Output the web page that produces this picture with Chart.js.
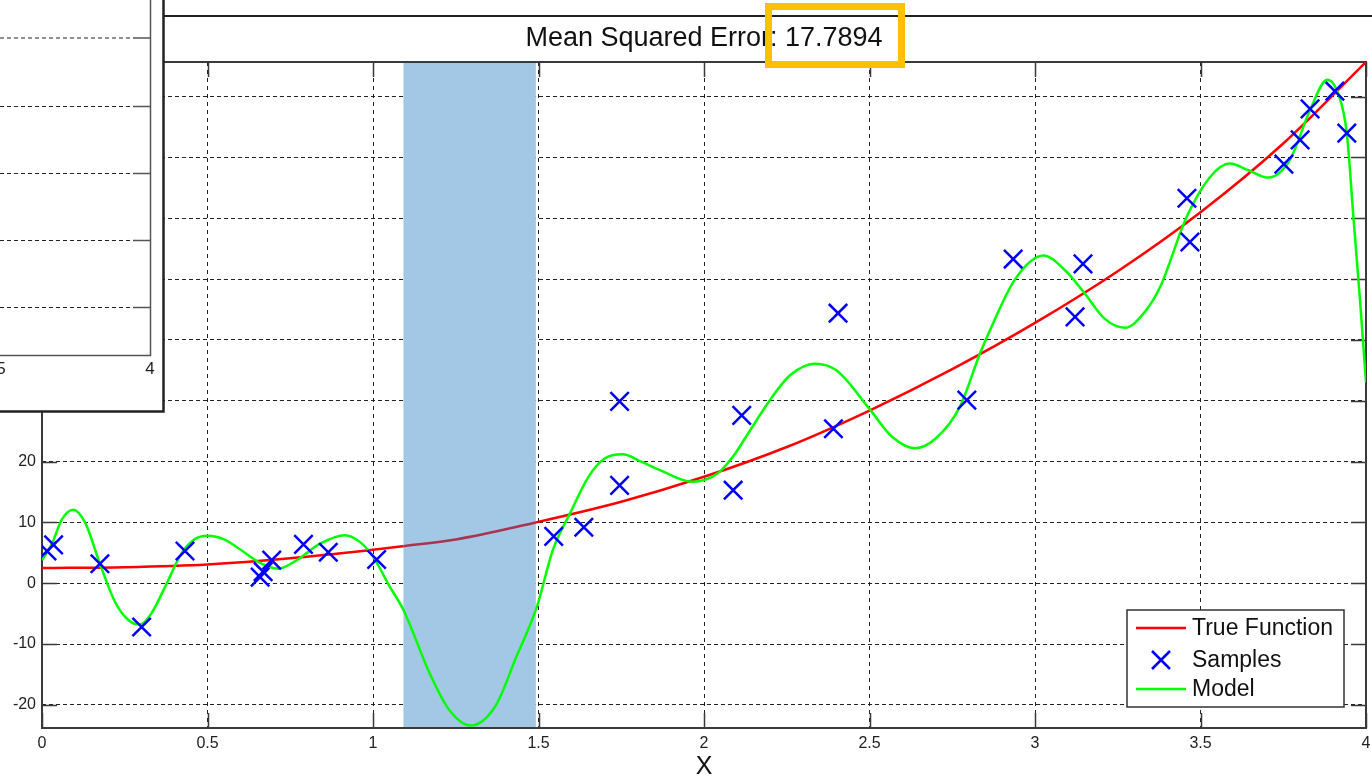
<!DOCTYPE html>
<html>
<head>
<meta charset="utf-8">
<title>Mean Squared Error</title>
<script src="https://cdn.jsdelivr.net/npm/chart.js@4.4.0/dist/chart.umd.min.js"></script>
<style>
  html, body { margin: 0; padding: 0; background: #fff; }
  #wrap { width: 1372px; height: 778px; position: relative; }
</style>
</head>
<body>
<div id="wrap"><canvas id="plot"></canvas></div>
<script>
// true function, sampled along x
const trueX = [0, 0.25, 0.5, 0.75, 1, 1.092, 1.25, 1.492, 1.75, 2, 2.25, 2.5, 2.75, 3, 3.25, 3.5, 3.75, 4];
const trueY = [2.5, 2.65, 3.1, 4.1, 5.5, 6.1, 7.2, 10.0, 13.4, 17.5, 22.4, 28.4, 35.2, 42.8, 51.3, 61.0, 72.3, 85.7];

// noisy samples
const sampleX = [0.015, 0.035, 0.175, 0.301, 0.432, 0.659, 0.668, 0.694, 0.790, 0.865, 1.011,
  1.546, 1.637, 1.745, 1.745, 2.088, 2.114, 2.391, 2.405, 2.794, 2.934, 3.121, 3.145,
  3.459, 3.468, 3.752, 3.801, 3.831, 3.906, 3.942];
const sampleY = [5.3, 6.3, 3.2, -7.2, 5.3, 1.0, 1.9, 3.8, 6.4, 5.1, 3.9,
  7.7, 9.2, 16.1, 29.9, 15.3, 27.6, 25.4, 44.4, 30.1, 53.3, 43.8, 52.5,
  63.3, 56.1, 68.9, 72.9, 78.0, 80.9, 74.0];

// fitted model
const modelX = [0, 0.03, 0.06, 0.094, 0.13, 0.175, 0.22, 0.26, 0.296, 0.33, 0.377, 0.42, 0.46, 0.502,
  0.55, 0.60, 0.66, 0.714, 0.77, 0.84, 0.915, 0.96, 1.001, 1.05, 1.092, 1.172, 1.23, 1.295,
  1.371, 1.43, 1.495, 1.543, 1.597, 1.651, 1.70, 1.754, 1.81, 1.867, 1.964, 2.04, 2.09, 2.126,
  2.199, 2.26, 2.335, 2.40, 2.502, 2.57, 2.637, 2.70, 2.773, 2.834, 2.864, 2.94, 3.025,
  3.09, 3.151, 3.21, 3.272, 3.33, 3.378, 3.458, 3.529, 3.589, 3.645, 3.705, 3.770, 3.831,
  3.883, 3.916, 3.942, 3.962, 3.982, 4.0];
const modelY = [3.8, 6.5, 10.5, 12.1, 10.0, 3.2, -3.0, -6.0, -6.8, -5.0, 0, 4.8, 7.2, 7.8,
  7.2, 5.5, 3.3, 2.4, 3.8, 6.5, 7.9, 6.8, 4.3, -0.5, -4.4, -14.9, -20.8, -23.4,
  -20.1, -12.5, -3.9, 5.4, 11.7, 17.5, 20.5, 21.2, 20.0, 18.6, 16.7, 18.0, 21.0, 24.0,
  30.1, 34.2, 36.1, 35.0, 28.5, 24.0, 22.2, 23.8, 29.0, 37.8, 41.6, 50.0, 53.9,
  51.5, 47.6, 43.5, 42.0, 44.5, 48.7, 60.2, 66.8, 69.0, 67.9, 66.7, 69.6, 77.8,
  82.8, 80.5, 74.0, 60.2, 46.5, 33.0];

const xTicks = [0, 0.5, 1, 1.5, 2, 2.5, 3, 3.5, 4];
const yTicks = [-20, -10, 0, 10, 20, 30, 40, 50, 60, 70, 80];
const yRange = [-23.8, 85.7];
const bandRange = [1.092, 1.492];
const mse = 17.7894;

// neighbouring axes that overlap the top-left corner
const insetTickLabels = ['3.5', '4'];
const insetGridY = [38, 106.5, 173.5, 240.5, 307.5];

const FONT = '"Liberation Sans", Arial, sans-serif';
const pts = (xs, ys) => xs.map((v, i) => ({ x: v, y: ys[i] }));
const inBand = (c) => c.p0.parsed.x >= bandRange[0] && c.p1.parsed.x <= bandRange[1];

const decor = {
  id: 'decor',
  beforeDatasetsDraw(chart) {
    const { ctx, chartArea: a, scales: { x, y } } = chart;
    ctx.save();
    const b0 = x.getPixelForValue(bandRange[0]);
    const b1 = x.getPixelForValue(bandRange[1]);
    ctx.fillStyle = 'rgb(163,200,230)';
    ctx.fillRect(b0, a.top, b1 - b0, a.bottom - a.top);

    ctx.strokeStyle = '#3a3a3a';
    ctx.lineWidth = 2;
    ctx.strokeRect(a.left, a.top, a.right - a.left, a.bottom - a.top);

    ctx.lineWidth = 1.5;
    ctx.beginPath();
    xTicks.forEach(v => {
      const p = Math.round(x.getPixelForValue(v)) + 0.5;
      ctx.moveTo(p, a.bottom); ctx.lineTo(p, a.bottom - 15);
      ctx.moveTo(p, a.top); ctx.lineTo(p, a.top + 15);
    });
    yTicks.forEach(v => {
      const p = Math.round(y.getPixelForValue(v)) + 0.5;
      ctx.moveTo(a.left, p); ctx.lineTo(a.left + 15, p);
      ctx.moveTo(a.right, p); ctx.lineTo(a.right - 15, p);
    });
    ctx.stroke();
    ctx.restore();
  },
  afterDraw(chart) {
    const { ctx, chartArea: a, width } = chart;
    ctx.save();

    // title strip
    ctx.strokeStyle = '#222';
    ctx.lineWidth = 2;
    ctx.beginPath();
    ctx.moveTo(164, 16); ctx.lineTo(width, 16);
    ctx.stroke();
    ctx.fillStyle = '#111';
    ctx.font = '27px ' + FONT;
    ctx.textAlign = 'center';
    ctx.textBaseline = 'middle';
    ctx.fillText('Mean Squared Error: ' + mse.toFixed(4), (a.left + a.right) / 2, 39);

    // axis title
    ctx.font = '25px ' + FONT;
    ctx.fillText('X', (a.left + a.right) / 2, 767);

    // overlapping panel in the corner
    ctx.fillStyle = '#fff';
    ctx.fillRect(0, 0, 164, 412);
    ctx.strokeStyle = '#555';
    ctx.lineWidth = 1.5;
    ctx.beginPath();
    ctx.moveTo(0, 355.5); ctx.lineTo(150.5, 355.5); ctx.lineTo(150.5, 0);
    insetGridY.forEach(g => { ctx.moveTo(133, g); ctx.lineTo(150, g); });
    ctx.stroke();
    ctx.strokeStyle = '#222';
    ctx.lineWidth = 1;
    ctx.setLineDash([4, 3]);
    ctx.beginPath();
    insetGridY.forEach(g => { ctx.moveTo(0, g); ctx.lineTo(133, g); });
    ctx.stroke();
    ctx.setLineDash([]);
    ctx.fillStyle = '#222';
    ctx.font = '17px ' + FONT;
    ctx.fillText(insetTickLabels[0], -6, 369);
    ctx.fillText(insetTickLabels[1], 150, 369);
    ctx.strokeStyle = '#222';
    ctx.lineWidth = 2.5;
    ctx.beginPath();
    ctx.moveTo(163.5, 0); ctx.lineTo(163.5, 411.5); ctx.lineTo(0, 411.5);
    ctx.stroke();

    // legend
    const ds = chart.data.datasets;
    ctx.fillStyle = '#fff';
    ctx.fillRect(1127, 610, 217, 97);
    ctx.strokeStyle = '#333';
    ctx.lineWidth = 1.5;
    ctx.strokeRect(1127, 610, 217, 97);
    const rows = [628, 660, 689];
    ctx.font = '23px ' + FONT;
    ctx.textAlign = 'left';
    ds.forEach((d, i) => {
      const ry = rows[i];
      ctx.strokeStyle = d.borderColor;
      ctx.lineWidth = 2.5;
      ctx.beginPath();
      if (d.showLine) {
        ctx.moveTo(1136, ry); ctx.lineTo(1186, ry);
      } else {
        ctx.moveTo(1152, ry - 9); ctx.lineTo(1170, ry + 9);
        ctx.moveTo(1152, ry + 9); ctx.lineTo(1170, ry - 9);
      }
      ctx.stroke();
      ctx.fillStyle = '#111';
      ctx.fillText(d.label, 1192, ry + 1);
    });

    // highlight around the error value
    ctx.strokeStyle = '#ffc000';
    ctx.lineWidth = 7;
    ctx.strokeRect(768.5, 6.5, 133, 58);
    ctx.restore();
  }
};

new Chart(document.getElementById('plot'), {
  type: 'scatter',
  data: {
    datasets: [
      {
        label: 'True Function',
        data: pts(trueX, trueY),
        showLine: true,
        borderColor: '#ff0000',
        borderWidth: 2.5,
        pointRadius: 0,
        cubicInterpolationMode: 'monotone',
        segment: { borderColor: c => inBand(c) ? '#a83450' : undefined },
        order: 3
      },
      {
        label: 'Samples',
        data: pts(sampleX, sampleY),
        showLine: false,
        borderColor: '#0000ff',
        backgroundColor: '#0000ff',
        pointStyle: 'crossRot',
        pointRadius: 13,
        pointBorderWidth: 2.5,
        order: 1
      },
      {
        label: 'Model',
        data: pts(modelX, modelY),
        showLine: true,
        borderColor: '#00ff00',
        borderWidth: 2.5,
        pointRadius: 0,
        cubicInterpolationMode: 'monotone',
        order: 2
      }
    ]
  },
  options: {
    responsive: true,
    maintainAspectRatio: false,
    animation: false,
    events: [],
    // big markers would otherwise add their own padding round the plot
    layout: { autoPadding: false, padding: { top: 62, right: 6, left: 0, bottom: 0 } },
    plugins: { legend: { display: false }, tooltip: { enabled: false } },
    scales: {
      x: {
        type: 'linear',
        min: 0,
        max: 4,
        afterFit: s => { s.height = 50; s.paddingLeft = 0; s.paddingRight = 0; },
        afterBuildTicks: s => { s.ticks = xTicks.map(v => ({ value: v })); },
        grid: { color: '#222', lineWidth: 1, drawTicks: false },
        border: { display: false, dash: [4, 4] },
        ticks: { padding: 6, color: '#222', font: { family: FONT, size: 16 }, maxRotation: 0, callback: v => String(v) }
      },
      y: {
        type: 'linear',
        min: yRange[0],
        max: yRange[1],
        afterFit: s => { s.width = 42; s.paddingTop = 0; s.paddingBottom = 0; },
        afterBuildTicks: s => { s.ticks = yTicks.map(v => ({ value: v })); },
        grid: { color: '#222', lineWidth: 1, drawTicks: false },
        border: { display: false, dash: [4, 3] },
        ticks: { padding: 6, color: '#222', font: { family: FONT, size: 16 }, callback: v => String(v) }
      }
    }
  },
  plugins: [decor]
});
</script>
</body>
</html>
